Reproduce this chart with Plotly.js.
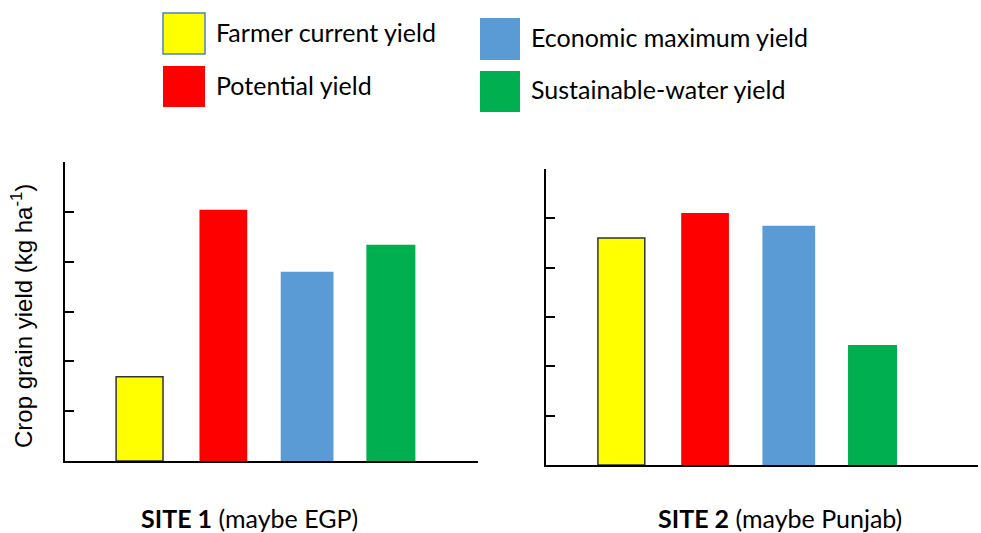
<!DOCTYPE html>
<html>
<head>
<meta charset="utf-8">
<script src="https://cdn.plot.ly/plotly-3.0.1.min.js"></script>
<style>html,body{margin:0;padding:0;background:#fff;}#chart{width:981px;height:533px;}</style>
</head>
<body>
<div id="chart"></div>
<script>
// Data
const categories = ["Farmer current yield", "Potential yield", "Economic maximum yield", "Sustainable-water yield"];
const site1Values = [1.69, 5.04, 3.80, 4.34];
const site2Values = [4.60, 5.11, 4.85, 2.43];
const siteLabels = ["<b>SITE 1</b> (maybe EGP)", "<b>SITE 2</b> (maybe Punjab)"];
const yTitle = "Crop grain yield (kg ha<sup>-1</sup>)";
const tickValues = [1, 2, 3, 4, 5, 6];

const colors = ["#ffff00", "#ff0000", "#5b9bd5", "#00b050"];
const widths = [0.56, 0.57, 0.63, 0.585];
const lineColors = ["#333333", "#ff0000", "#5b9bd5", "#00b050"];
const lineWidths = [1.5, 0, 0, 0];

const FONT = "Lato, Open Sans, sans-serif";
const FONT_Y = "Liberation Sans, Arial, sans-serif";

function barTrace(vals, xa, ya) {
  return {
    type: "bar", x: categories, y: vals, xaxis: xa, yaxis: ya,
    width: widths,
    marker: {color: colors, line: {color: lineColors, width: lineWidths}},
    showlegend: false, hoverinfo: "skip"
  };
}

const data = [barTrace(site1Values, "x", "y"), barTrace(site2Values, "x2", "y2")];

const W = 981, H = 533;
const px = v => v / W, py = v => 1 - v / H;

const axY = {
  range: [0, 6], showgrid: false, zeroline: false, showline: true, linecolor: "#000", linewidth: 2,
  ticks: "inside", ticklen: 9, tickwidth: 2, tickcolor: "#000", tickvals: tickValues, showticklabels: false, fixedrange: true
};
const axX = {
  type: "category", showgrid: false, zeroline: false, showline: true, linecolor: "#000", linewidth: 2,
  ticks: "", showticklabels: false, fixedrange: true
};

const layout = {
  width: W, height: H,
  margin: {l: 0, r: 0, t: 0, b: 0},
  paper_bgcolor: "#fff", plot_bgcolor: "rgba(0,0,0,0)",
  font: {family: FONT, color: "#000"},
  xaxis: Object.assign({}, axX, {domain: [px(65), px(478)], range: [-0.89, 4.04], anchor: "y"}),
  yaxis: Object.assign({}, axY, {domain: [py(461), py(162)], anchor: "x"}),
  xaxis2: Object.assign({}, axX, {domain: [px(546), px(978)], range: [-0.90, 4.26], anchor: "y2"}),
  yaxis2: Object.assign({}, axY, {domain: [py(465), py(169)], anchor: "x2"}),
  shapes: [], annotations: []
};

// Custom legend
const legendPos = [
  {x0: 163, x1: 205, y0: 13, y1: 54},
  {x0: 163, x1: 205, y0: 66, y1: 107},
  {x0: 480, x1: 520, y0: 18, y1: 60},
  {x0: 480, x1: 520, y0: 71, y1: 112}
];
legendPos.forEach((p, i) => {
  layout.shapes.push({
    type: "rect", xref: "paper", yref: "paper",
    x0: px(p.x0), x1: px(p.x1), y0: py(p.y1), y1: py(p.y0),
    fillcolor: colors[i], line: {color: i === 0 ? "#4f81bd" : colors[i], width: i === 0 ? 1.5 : 0}
  });
  layout.annotations.push({
    xref: "paper", yref: "paper", x: px(p.x1 + 9), y: py((p.y0 + p.y1) / 2 - 2),
    xanchor: "left", yanchor: "middle", showarrow: false,
    text: categories[i], font: {family: FONT, size: 25, color: "#000"}
  });
});

layout.annotations.push({
  xref: "paper", yref: "paper", x: px(22), y: py(316), textangle: -90,
  xanchor: "center", yanchor: "middle", showarrow: false,
  text: yTitle, font: {family: FONT_Y, size: 24, color: "#000"}
});
layout.annotations.push({
  xref: "paper", yref: "paper", x: px(250), y: py(518),
  xanchor: "center", yanchor: "middle", showarrow: false, borderpad: 0,
  text: siteLabels[0], font: {family: FONT, size: 25, color: "#000"}
});
layout.annotations.push({
  xref: "paper", yref: "paper", x: px(780), y: py(518),
  xanchor: "center", yanchor: "middle", showarrow: false, borderpad: 0,
  text: siteLabels[1], font: {family: FONT, size: 25, color: "#000"}
});

Plotly.newPlot("chart", data, layout, {staticPlot: true, displayModeBar: false});
</script>
</body>
</html>
